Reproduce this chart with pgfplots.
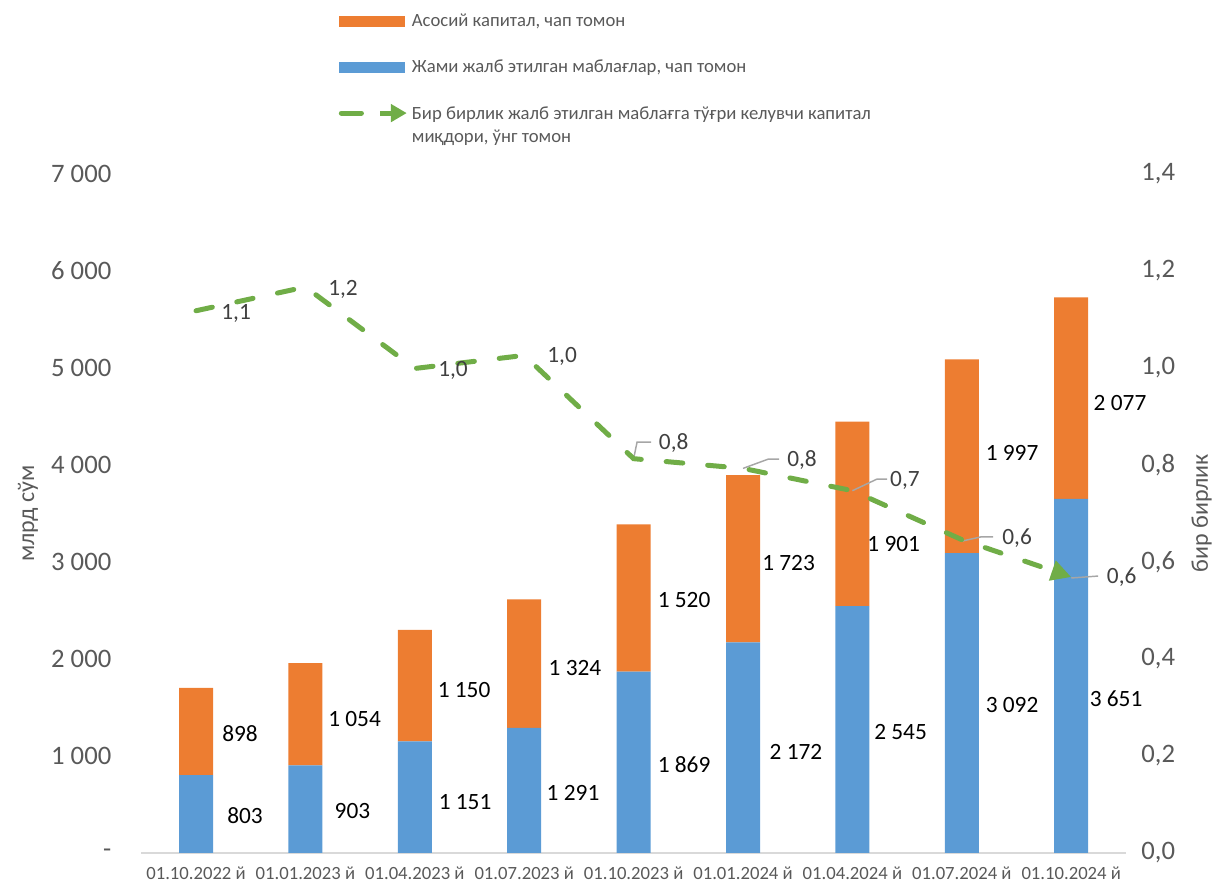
\documentclass[border=0pt]{standalone}
\usepackage{fontspec}
\setmainfont{Carlito}
\usepackage{pgfplots}
\usepackage{pgfplotstable}
\pgfplotsset{compat=1.18}
\usetikzlibrary{arrows.meta}
\definecolor{corange}{HTML}{ED7D31}
\definecolor{cblue}{HTML}{5B9BD5}
\definecolor{cgreen}{HTML}{70AD47}
\definecolor{tgrey}{HTML}{595959}
\definecolor{lgrey}{HTML}{D9D9D9}
\definecolor{dgrey}{HTML}{404040}
\definecolor{leadgrey}{HTML}{A6A6A6}

\pgfplotstableread{
x b o
0 803 898
1 903 1054
2 1151 1150
3 1291 1324
4 1869 1520
5 2172 1723
6 2545 1901
7 3092 1997
8 3651 2077
}\bars

\pgfplotstableread{
x r
0 1.118
1 1.167
2 0.999
3 1.026
4 0.813
5 0.793
6 0.747
7 0.646
8 0.569
}\ratio

% label positions (x in category units, y in left-axis units)
\pgfplotstableread{
x y v
0.448 381 803
1.430 433 903
2.459 526 1151
3.446 619 1291
4.461 907 1869
5.484 1041 2172
6.440 1247 2545
7.459 1526 3092
8.410 1588 3651
}\bluelab

\pgfplotstableread{
x y v
0.402 1227 898
1.449 1381 1054
2.450 1680 1150
3.464 1907 1324
4.461 2608 1520
5.416 2990 1723
6.377 3186 1901
7.459 4124 1997
8.446 4639 2077
}\orangelab

\pgfplotstableread{
x y t
0.366 1.113 1,1
1.344 1.163 1,2
2.349 0.996 1,0
3.346 1.023 1,0
4.366 0.845 0,8
5.539 0.810 0,8
6.480 0.769 0,7
7.505 0.649 0,6
8.461 0.569 0,6
}\ratiolab

\newcommand{\tickfont}{\fontsize{20}{23}\selectfont}
\newcommand{\labfont}{\fontsize{17.5}{20}\selectfont}

\begin{document}
\begin{tikzpicture}
\path[use as bounding box] (0,0) rectangle (912pt,665.25pt);

% ---------- bars, left axis ----------
\begin{axis}[
  at={(106pt,25.5pt)}, anchor=south west, scale only axis,
  width=738.45pt, height=509.25pt,
  xmin=-0.5, xmax=8.5, ymin=0, ymax=7000,
  ybar stacked, bar width=25.5pt,
  axis y line*=left, axis x line*=bottom,
  y axis line style={draw=none},
  x axis line style={draw=lgrey, line width=1.1pt},
  major tick length=0pt,
  xtick={0,1,2,3,4,5,6,7,8},
  xticklabels={01.10.2022 й, 01.01.2023 й, 01.04.2023 й, 01.07.2023 й, 01.10.2023 й, 01.01.2024 й, 01.04.2024 й, 01.07.2024 й, 01.10.2024 й},
  xticklabel style={font=\fontsize{14}{16}\selectfont, text=tgrey, yshift=-7pt},
  ytick={0,1000,2000,3000,4000,5000,6000,7000},
  yticklabels={-, 1 000, 2 000, 3 000, 4 000, 5 000, 6 000, 7 000},
  yticklabel style={font=\tickfont, text=tgrey, xshift=-19pt},
  every axis y label/.style={at={(axis description cs:-0.115,0.5)}, rotate=90, anchor=center, font=\fontsize{18}{21}\selectfont, text=tgrey},
  ylabel={млрд сўм},
  legend style={at={(axis description cs:0.2,1.240)}, anchor=north west, draw=none, fill=none, inner sep=0pt,
    row sep=19.2pt, font=\fontsize{14}{17.5}\selectfont, text=tgrey,
    /tikz/every even column/.append style={column sep=6pt}},
  legend cell align=left,
]
\addlegendimage{legend image code/.code={\fill[corange] (0pt,-3.75pt) rectangle (48.75pt,3.75pt);}}
\addlegendentry{Асосий капитал, чап томон}
\addlegendimage{legend image code/.code={\fill[cblue] (0pt,-3.75pt) rectangle (48.75pt,3.75pt);}}
\addlegendentry{Жами жалб этилган маблағлар, чап томон}
\addlegendimage{legend image code/.code={\draw[cgreen, line width=3.75pt, line cap=round] (1.9pt,0pt) -- (17pt,0pt); \draw[cgreen, line width=3.75pt, -{Triangle[length=12pt,width=13pt]}] (31pt,0pt) -- (51pt,0pt);}}
\addlegendentry{\renewcommand{\arraystretch}{0.85}\begin{tabular}[t]{@{}l@{}}Бир бирлик жалб этилган маблағга тўғри келувчи капитал\\[2.4pt]миқдори, ўнг томон\end{tabular}}

\addplot[fill=cblue, draw=none] table[x=x, y=b] {\bars};
\addplot[fill=corange, draw=none] table[x=x, y=o] {\bars};
\end{axis}

% ---------- bar labels ----------
\begin{axis}[
  at={(106pt,25.5pt)}, anchor=south west, scale only axis,
  width=738.45pt, height=509.25pt,
  xmin=-0.5, xmax=8.5, ymin=0, ymax=7000, hide axis,
  nodes near coords={\pgfmathprintnumber[assume math mode=true, fixed, precision=0, 1000 sep={\ }]{\pgfplotspointmeta}},
  every node near coord/.style={anchor=center, font=\labfont, text=black},
]
\addplot[draw=none, mark=none, point meta=explicit] table[x=x, y=y, meta=v] {\bluelab};
\addplot[draw=none, mark=none, point meta=explicit] table[x=x, y=y, meta=v] {\orangelab};
\end{axis}

% ---------- ratio line, right axis ----------
\begin{axis}[
  at={(106pt,25.5pt)}, anchor=south west, scale only axis,
  width=738.45pt, height=509.25pt,
  xmin=-0.5, xmax=8.5, ymin=0, ymax=1.4,
  axis x line=none, axis y line*=right,
  y axis line style={draw=none},
  major tick length=0pt,
  ytick={0,0.2,0.4,0.6,0.8,1.0,1.2,1.4},
  yticklabels={{0,0},{0,2},{0,4},{0,6},{0,8},{1,0},{1,2},{1,4}},
  yticklabel style={font=\tickfont, text=tgrey, xshift=8pt},
  every axis y label/.style={at={(axis description cs:1.077,0.5)}, rotate=90, anchor=center, font=\fontsize{18}{21}\selectfont, text=tgrey},
  ylabel={бир бирлик},
]
% leader lines
\addplot[leadgrey, line width=1.1pt] coordinates {(4.0,0.813) (4.031,0.847) (4.159,0.847)};
\addplot[leadgrey, line width=1.1pt] coordinates {(5.0,0.793) (5.229,0.812) (5.329,0.812)};
\addplot[leadgrey, line width=1.1pt] coordinates {(6.0,0.747) (6.225,0.771) (6.316,0.771)};
\addplot[leadgrey, line width=1.1pt] coordinates {(7.0,0.643) (7.18,0.652) (7.285,0.652)};
\addplot[leadgrey, line width=1.1pt] coordinates {(8.0,0.567) (8.245,0.571)};
% line
\addplot[cgreen, line width=3.75pt, line cap=round, dash pattern=on 12.5pt off 18.75pt,
  -{Triangle[length=15pt,width=15pt]}, mark=none] table[x=x, y=r] {\ratio};
% line labels
\addplot[draw=none, mark=none, point meta=explicit symbolic, nodes near coords,
  every node near coord/.style={anchor=center, font=\labfont, text=dgrey}]
  table[x=x, y=y, meta=t] {\ratiolab};
\end{axis}
\end{tikzpicture}
\end{document}
